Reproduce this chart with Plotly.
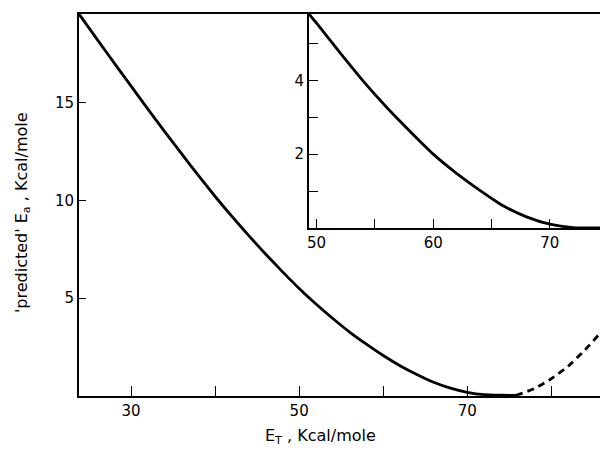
import plotly.graph_objects as go

# Main curve (solid) : E_T vs predicted Ea
main_x = [23.8, 24, 26, 28, 30, 32, 34, 36, 38, 40, 42, 44, 46, 48, 50, 52, 54, 56, 58, 60, 62, 64, 66, 68, 70, 72, 74, 75.8]
main_y = [19.53, 19.41, 18.21, 17.02, 15.84, 14.67, 13.52, 12.39, 11.28, 10.20, 9.18, 8.20, 7.26, 6.36, 5.50,
          4.70, 3.96, 3.27, 2.65, 2.07, 1.55, 1.10, 0.70, 0.40, 0.19, 0.07, 0.04, 0.03]

# Main curve (dashed extension)
dash_x = [75.8, 78, 80, 82, 84, 86, 87]
dash_y = [0.03, 0.38, 0.88, 1.52, 2.35, 3.3, 3.8]

# Inset curve
inset_x = [49.35, 50, 52, 54, 56, 58, 60, 62, 64, 66, 68, 70, 72, 74.3]
inset_y = [5.8, 5.55, 4.75, 3.98, 3.27, 2.62, 2.0, 1.48, 1.02, 0.6, 0.3, 0.1, 0.01, 0.0]

main_xticks = [30, 50, 70]
main_xminor = [40, 60, 80]
main_yticks = [5, 10, 15]
inset_xticks = [50, 60, 70]
inset_xminor = [55, 65]
inset_yticks = [2, 4]
inset_yminor = [1, 3, 5]

FONT = "DejaVu Sans"

fig = go.Figure()
fig.add_trace(go.Scatter(x=main_x, y=main_y, mode="lines",
                         line=dict(color="black", width=2.8, shape="spline", smoothing=0.5),
                         xaxis="x", yaxis="y"))
fig.add_trace(go.Scatter(x=dash_x, y=dash_y, mode="lines",
                         line=dict(color="black", width=2.8, dash="7px,5px", shape="spline", smoothing=0.5),
                         xaxis="x", yaxis="y"))
fig.add_trace(go.Scatter(x=inset_x, y=inset_y, mode="lines",
                         line=dict(color="black", width=2.8, shape="spline", smoothing=0.5),
                         xaxis="x2", yaxis="y2"))

axis_common = dict(showgrid=False, zeroline=False, showline=True, linecolor="black", linewidth=2,
                   ticks="inside", tickcolor="black", tickwidth=1.3,
                   tickfont=dict(family=FONT, size=15, color="black"))

fig.update_layout(
    width=600, height=450,
    margin=dict(l=79, r=0, t=14, b=54),
    paper_bgcolor="white", plot_bgcolor="white",
    showlegend=False,
    xaxis=dict(domain=[0, 1], range=[23.8, 85.8], tickmode="array", tickvals=main_xticks,
               ticklen=10, mirror=True, anchor="y",
               minor=dict(tickmode="array", tickvals=main_xminor, ticks="inside", ticklen=10,
                          tickcolor="black", tickwidth=1.3, showgrid=False),
               **axis_common),
    yaxis=dict(domain=[0, 1], range=[0, 19.53], tickmode="array", tickvals=main_yticks,
               ticklen=7, anchor="x", **axis_common),
    xaxis2=dict(domain=[0.4415, 1], range=[49.35, 74.3], tickmode="array", tickvals=inset_xticks,
                ticklen=9, anchor="y2",
                minor=dict(tickmode="array", tickvals=inset_xminor, ticks="inside", ticklen=9,
                           tickcolor="black", tickwidth=1.3, showgrid=False),
                **axis_common),
    yaxis2=dict(domain=[0.44, 1], range=[0, 5.8], tickmode="array", tickvals=inset_yticks,
                ticklen=9, anchor="x2",
                minor=dict(tickmode="array", tickvals=inset_yminor, ticks="inside", ticklen=9,
                           tickcolor="black", tickwidth=1.3, showgrid=False),
                **axis_common),
    annotations=[
        dict(text="E<sub>T</sub> , Kcal/mole", xref="paper", yref="paper", x=0.4626, y=-0.105,
             showarrow=False, font=dict(family=FONT, size=16, color="black"), xanchor="center", yanchor="middle"),
        dict(text="'predicted' E<sub>a</sub> , Kcal/mole", xref="paper", yref="paper", x=-0.1094, y=0.479,
             showarrow=False, textangle=-90, font=dict(family=FONT, size=16, color="black"),
             xanchor="center", yanchor="middle"),
    ],
)

fig.write_html("out.html")
